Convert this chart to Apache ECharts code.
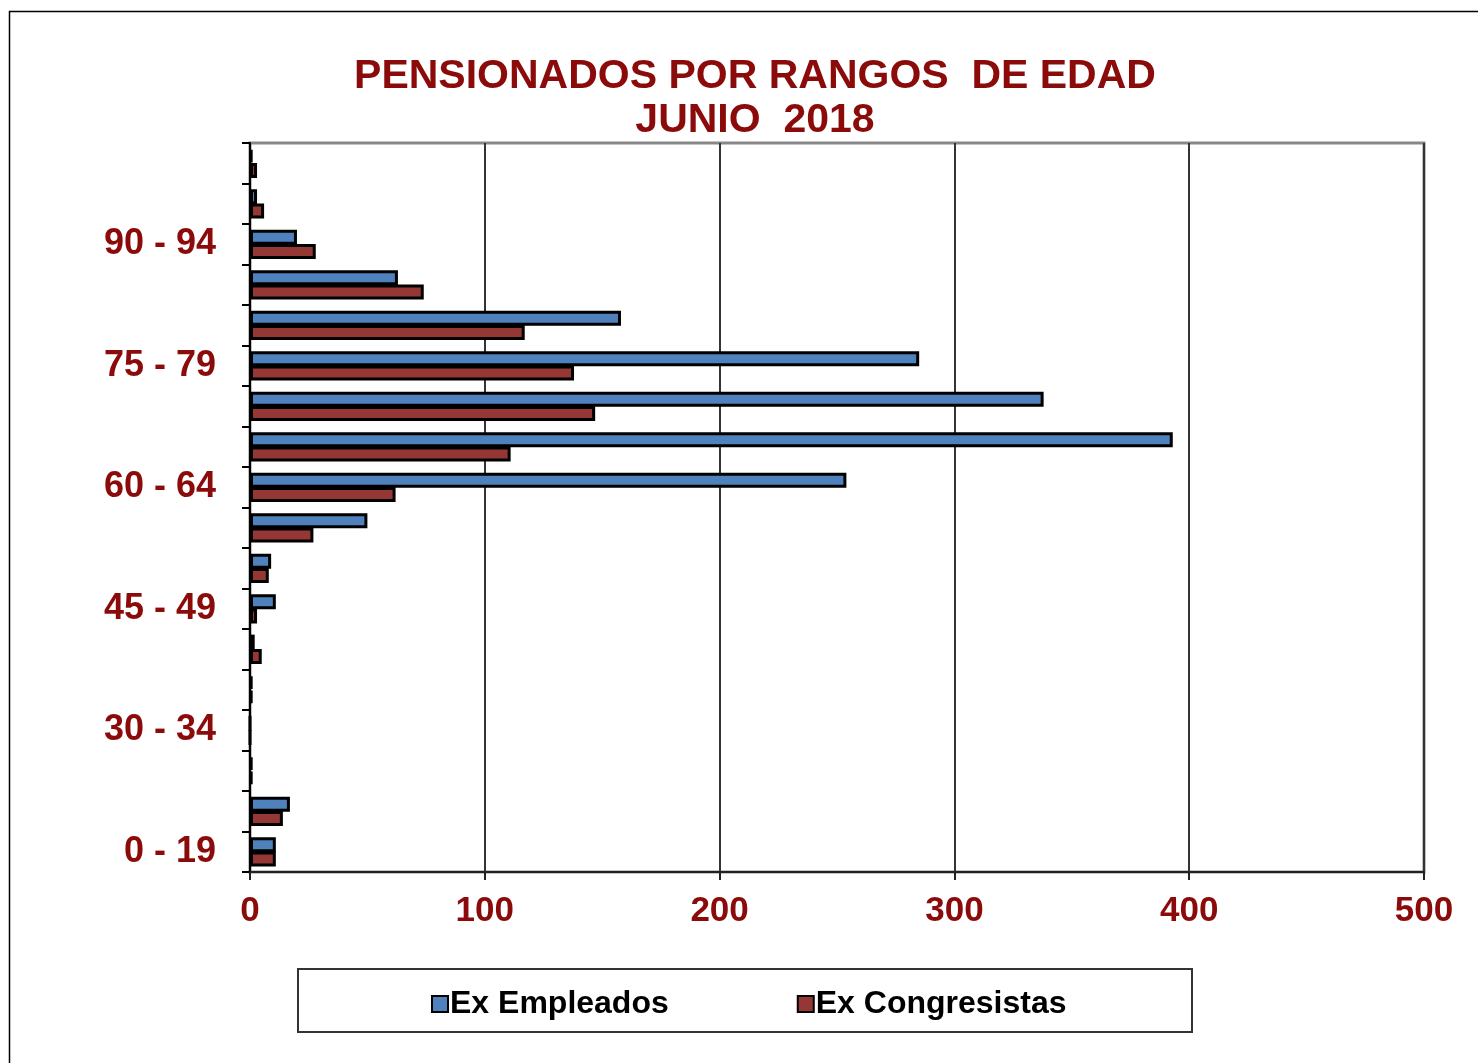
<!DOCTYPE html>
<html>
<head>
<meta charset="utf-8">
<script src="https://cdn.jsdelivr.net/npm/echarts@6/dist/echarts.min.js"></script>
<style>
html,body{margin:0;padding:0;background:#fff;}
#chart{width:1478px;height:1063px;}
</style>
</head>
<body>
<div id="chart"></div>
<script>
var categories = ['0 - 19','20 - 24','25 - 29','30 - 34','35 - 39','40 - 44','45 - 49','50 - 54','55 - 59','60 - 64','65 - 69','70 - 74','75 - 79','80 - 84','85 - 89','90 - 94','95 - 99','100 +'];
var exEmpleados =    [11, 17, 1, 0, 1, 2, 11, 9, 50, 254, 393, 338, 285, 158, 63, 20, 3, 1];
var exCongresistas = [11, 14, 1, 0, 1, 5, 3, 8, 27, 62, 111, 147, 138, 117, 74, 28, 6, 3];
var xTicks = [0, 100, 200, 300, 400, 500];
var titleLines = ['PENSIONADOS POR RANGOS  DE EDAD', 'JUNIO  2018'];
var seriesNames = ['Ex Empleados', 'Ex Congresistas'];

var DARKRED = '#8B0A0A';
var FONT = 'Arial, "Liberation Sans", Helvetica, sans-serif';

var chart = echarts.init(document.getElementById('chart'));
chart.setOption({
  animation: false,
  backgroundColor: '#fff',
  graphic: [
    {type: 'rect', shape: {x: 9.5, y: 11.5, width: 1500, height: 1100}, style: {fill: 'none', stroke: '#000', lineWidth: 1.5}, silent: true, z: -1},
    {type: 'rect', shape: {x: 298, y: 969, width: 894, height: 63}, style: {fill: '#fff', stroke: '#333', lineWidth: 2}, silent: true, z: 0},
    {type: 'text', x: 755, y: 77, style: {text: titleLines[0], fill: DARKRED, font: 'bold 41px ' + FONT, textAlign: 'center', textVerticalAlign: 'middle'}},
    {type: 'text', x: 755, y: 121, style: {text: titleLines[1], fill: DARKRED, font: 'bold 41px ' + FONT, textAlign: 'center', textVerticalAlign: 'middle'}}
  ],
  legend: {
    data: seriesNames,
    left: 426,
    top: 983,
    itemWidth: 16,
    itemHeight: 16,
    itemGap: 128,
    icon: 'rect',
    z: 5,
    textStyle: {color: '#000', fontWeight: 'bold', fontSize: 32, fontFamily: FONT, padding: [0, 0, 0, -3]}
  },
  grid: {left: 250, right: 54, top: 143, bottom: 191, show: true, borderColor: '#888', borderWidth: 3, containLabel: false},
  xAxis: {
    type: 'value', min: 0, max: 500, interval: 100,
    axisLine: {show: true, lineStyle: {color: '#222', width: 2}},
    axisTick: {show: true, length: 8, lineStyle: {color: '#222', width: 2}},
    splitLine: {show: true, lineStyle: {color: '#333', width: 2}},
    axisLabel: {color: DARKRED, fontWeight: 'bold', fontSize: 35, fontFamily: FONT, margin: 22,
      formatter: function (v) { return xTicks.indexOf(v) >= 0 ? String(v) : ''; }}
  },
  yAxis: {
    type: 'category', data: categories,
    axisLine: {show: true, lineStyle: {color: '#000', width: 2}},
    axisTick: {show: true, interval: 0, length: 8, lineStyle: {color: '#000', width: 2}},
    axisLabel: {interval: 2, color: DARKRED, fontWeight: 'bold', fontSize: 36, fontFamily: FONT, margin: 34},
    splitLine: {show: false}
  },
  series: [
    {name: seriesNames[0], type: 'bar', data: exEmpleados, barWidth: 15, barGap: '-5%', clip: false,
      itemStyle: {color: '#4F81BD', borderColor: '#000', borderWidth: 3}},
    {name: seriesNames[1], type: 'bar', data: exCongresistas, barWidth: 15, barGap: '-5%', clip: false,
      itemStyle: {color: '#953735', borderColor: '#000', borderWidth: 3}}
  ]
});
</script>
</body>
</html>
